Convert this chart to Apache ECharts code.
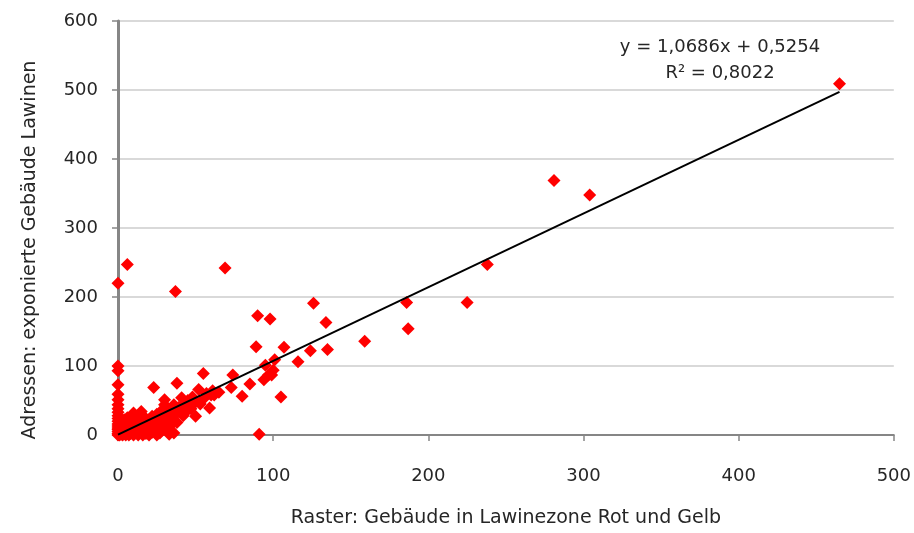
<!DOCTYPE html>
<html>
<head>
<meta charset="utf-8">
<script src="https://cdn.jsdelivr.net/npm/echarts@6/dist/echarts.min.js"></script>
<style>
html,body{margin:0;padding:0;background:#fff;}
#chart{width:914px;height:533px;}
</style>
</head>
<body>
<div id="chart"></div>
<script>
// Raster: Gebäude in Lawinezone Rot und Gelb (x)
var xValues = [0,0,0,0,0,0,0,0,0,0,0,0,0,0,0,0,0,0,0,
  1,1,2,2,3,3,3,4,4,5,5,5,6,6,6,7,7,8,8,8,9,10,10,10,11,11,12,12,13,13,14,14,15,15,16,16,17,17,18,18,19,20,20,20,21,22,22,23,23,24,25,25,26,27,27,28,28,29,29,30,30,31,32,33,33,34,34,35,36,36,37,38,38,39,40,41,42,43,44,45,46,47,48,50,50,52,53,55,55,57,59,60,61,62,65,
  73,74,80,85,91,94,95,97,99,100,101,105,107,116,89,90,98,124,126,134,135,159,186,187,225,238,281,304,465,6,37,69];
// Adressen: exponierte Gebäude Lawinen (y)
var yValues = [0,2,5,8,10,13,16,20,24,28,33,38,44,51,59,73,93,100,220,
  0,3,1,6,0,10,15,2,22,0,5,12,3,18,25,0,8,2,14,20,5,0,10,32,3,17,7,24,0,12,4,20,9,34,0,15,6,26,11,2,18,0,8,22,14,4,27,69,18,10,30,0,22,15,3,35,6,26,13,51,44,20,30,1,12,6,38,25,44,3,30,75,18,40,36,54,28,46,34,50,42,38,55,27,48,66,45,89,52,60,39,58,64,58,62,
  69,87,56,74,1,80,101,87,87,94,109,55,127,106,128,173,168,122,191,163,124,136,192,154,192,247,369,348,509,247,208,242];
// Linear trendline y = 1,0686x + 0,5254, endpoints
var trendX = [0, 465];
var trendY = [0.5, 497.4];
var xTicks = [0, 100, 200, 300, 400, 500];
var yTicks = [0, 100, 200, 300, 400, 500, 600];
var xTitle = 'Raster: Gebäude in Lawinezone Rot und Gelb';
var yTitle = 'Adressen: exponierte Gebäude Lawinen';
var equationText = 'y = 1,0686x + 0,5254';
var r2Text = 'R² = 0,8022';

var pts = xValues.map(function (x, i) { return [x, yValues[i]]; });
var trend = trendX.map(function (x, i) { return [x, trendY[i]]; });

var font = '"DejaVu Sans", sans-serif';
var chart = echarts.init(document.getElementById('chart'), null, {renderer: 'canvas'});
chart.setOption({
  animation: false,
  grid: {left: 118, right: 17, top: 21, bottom: 94, containLabel: false},
  xAxis: {
    type: 'value', min: xTicks[0], max: xTicks[xTicks.length - 1], interval: 100,
    name: xTitle,
    nameLocation: 'middle', nameGap: 74,
    nameTextStyle: {fontFamily: font, fontSize: 19, color: '#262626'},
    axisLine: {show: true, onZero: false, lineStyle: {color: '#868686', width: 2}},
    axisTick: {show: true, inside: false, length: 6, lineStyle: {color: '#868686', width: 1.5}},
    axisLabel: {fontFamily: font, fontSize: 18, color: '#262626', margin: 32},
    splitLine: {show: false}
  },
  yAxis: {
    type: 'value', min: yTicks[0], max: yTicks[yTicks.length - 1], interval: 100,
    axisLine: {show: true, lineStyle: {color: '#868686', width: 3}},
    axisTick: {show: true, inside: false, length: 6, lineStyle: {color: '#868686', width: 1.5}},
    axisLabel: {fontFamily: font, fontSize: 18, color: '#262626', margin: 20},
    splitLine: {show: true, lineStyle: {color: '#d9d9d9', width: 2}}
  },
  series: [
    {
      type: 'scatter', data: pts, symbol: 'diamond', symbolSize: 13,
      itemStyle: {color: '#ff0000', opacity: 1}, z: 2
    },
    {
      type: 'line', data: trend, symbol: 'none', z: 3,
      lineStyle: {color: '#000000', width: 2}
    }
  ],
  graphic: [
    {type: 'text', x: 30, y: 250, rotation: Math.PI / 2,
     style: {text: yTitle, font: '19px ' + font, fill: '#262626', align: 'center', verticalAlign: 'middle'}},
    {type: 'text', x: 720, y: 47,
     style: {text: equationText, font: '18px ' + font, fill: '#262626', align: 'center', verticalAlign: 'middle'}},
    {type: 'text', x: 720, y: 73,
     style: {text: r2Text, font: '18px ' + font, fill: '#262626', align: 'center', verticalAlign: 'middle'}}
  ]
});
</script>
</body>
</html>
